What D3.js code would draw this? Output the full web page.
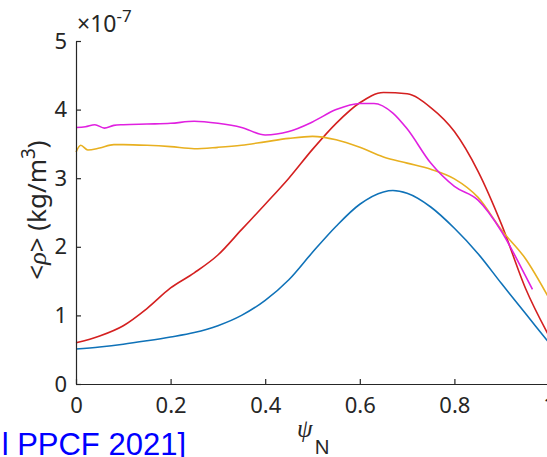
<!DOCTYPE html>
<html>
<head>
<meta charset="utf-8">
<script src="https://cdn.jsdelivr.net/npm/d3@7"></script>
<style>
  body { margin: 0; background: #fff; overflow: hidden; }
  svg { display: block; }
</style>
</head>
<body>
<div></div>
<script>
const w = 547;
const h = 457;

// data, values in units of 1e-7 kg/m^3
const psiBlue = [0, 0.05, 0.1, 0.15, 0.2, 0.25, 0.3, 0.35, 0.4, 0.45, 0.5, 0.55, 0.6, 0.65, 0.67, 0.7, 0.75, 0.8, 0.85, 0.9, 0.95, 1.0];
const rhoBlue = [0.51, 0.54, 0.58, 0.63, 0.685, 0.75, 0.85, 1.0, 1.22, 1.52, 1.92, 2.3, 2.62, 2.8, 2.82, 2.78, 2.58, 2.27, 1.9, 1.46, 1.03, 0.6];

const psiRed = [0, 0.05, 0.1, 0.15, 0.2, 0.25, 0.3, 0.35, 0.4, 0.45, 0.5, 0.55, 0.6, 0.65, 0.7, 0.75, 0.8, 0.85, 0.9, 0.95, 1.0];
const rhoRed = [0.6, 0.7, 0.85, 1.1, 1.4, 1.62, 1.88, 2.25, 2.62, 3.0, 3.42, 3.8, 4.1, 4.25, 4.23, 4.03, 3.68, 3.1, 2.32, 1.4, 0.7];

const psiYellow = [0, 0.01, 0.025, 0.05, 0.08, 0.1, 0.15, 0.2, 0.25, 0.3, 0.35, 0.4, 0.45, 0.5, 0.55, 0.6, 0.65, 0.7, 0.75, 0.8, 0.85, 0.9, 0.95, 1.0];
const rhoYellow = [3.38, 3.48, 3.41, 3.44, 3.49, 3.49, 3.48, 3.46, 3.43, 3.45, 3.48, 3.53, 3.58, 3.61, 3.56, 3.45, 3.31, 3.22, 3.13, 2.99, 2.72, 2.24, 1.83, 1.25];

const psiMagenta = [0, 0.02, 0.04, 0.06, 0.08, 0.1, 0.15, 0.2, 0.25, 0.3, 0.35, 0.4, 0.45, 0.5, 0.55, 0.6, 0.63, 0.67, 0.7, 0.75, 0.8, 0.85, 0.9, 0.95, 0.965];
const rhoMagenta = [3.74, 3.75, 3.78, 3.73, 3.77, 3.78, 3.79, 3.8, 3.83, 3.8, 3.74, 3.63, 3.68, 3.82, 4.0, 4.09, 4.09, 3.95, 3.72, 3.22, 2.88, 2.68, 2.22, 1.58, 1.38];

const xTicks = [0, 0.2, 0.4, 0.6, 0.8, 1];
const yTicks = [0, 1, 2, 3, 4, 5];

const series = [
  { psi: psiBlue, rho: rhoBlue, color: "#0f72b8" },
  { psi: psiRed, rho: rhoRed, color: "#d42020" },
  { psi: psiYellow, rho: rhoYellow, color: "#e8b020" },
  { psi: psiMagenta, rho: rhoMagenta, color: "#e020e0" },
];

const svg = d3.select("div").append("svg").attr("width", w).attr("height", h);

const xScale = d3.scaleLinear().domain([0, 1]).range([76, 549]);
const yScale = d3.scaleLinear().domain([0, 5]).range([384, 41]);

const line = d3
  .line()
  .x((d) => xScale(d[0]))
  .y((d) => yScale(d[1]))
  .curve(d3.curveMonotoneX);

series.forEach((s) => {
  svg
    .append("path")
    .datum(s.psi.map((p, i) => [p, s.rho[i]]))
    .attr("fill", "none")
    .attr("stroke", s.color)
    .attr("stroke-width", 1.6)
    .attr("d", line);
});

const font = "'Noto Sans', 'Open Sans', sans-serif";
const axisColor = "#262626";

const xAxis = d3.axisBottom(xScale).tickValues(xTicks).tickSizeInner(-5).tickSizeOuter(0).tickPadding(13)
  .tickFormat((d) => (d === 1 ? "1" : d === 0 ? "0" : d3.format(".1f")(d)));
const gx = svg.append("g").attr("transform", "translate(0," + yScale(0) + ")").call(xAxis);

const yAxis = d3.axisLeft(yScale).tickValues(yTicks).tickSizeInner(-5).tickSizeOuter(0).tickPadding(9)
  .tickFormat(d3.format("d"));
const gy = svg.append("g").attr("transform", "translate(" + xScale(0) + ",0)").call(yAxis);

[gx, gy].forEach((g) => {
  g.select(".domain").attr("stroke", axisColor).attr("stroke-width", 1.2);
  g.selectAll(".tick line").attr("stroke", axisColor).attr("stroke-width", 1.2);
  g.selectAll(".tick text").attr("fill", axisColor).style("font-family", font).style("font-size", "22px");
});

// exponent label
const exp = svg.append("text").attr("x", 77).attr("y", 32).attr("fill", axisColor)
  .style("font-family", font).style("font-size", "23px");
exp.append("tspan").text("\u00d710");
exp.append("tspan").attr("dy", -10).style("font-size", "17px").text("-7");

// y label
const yl = svg.append("text")
  .attr("transform", "translate(46,210) rotate(-90)")
  .attr("text-anchor", "middle")
  .attr("fill", axisColor)
  .style("font-family", font)
  .style("font-size", "26px");
yl.append("tspan").text("<");
yl.append("tspan").style("font-family", "'Liberation Serif', serif").style("font-style", "italic").text("\u03c1");
yl.append("tspan").text("> (kg/m");
yl.append("tspan").attr("dy", -11).style("font-size", "19px").text("3");
yl.append("tspan").attr("dy", 11).text(")");

// x label
const xl = svg.append("text").attr("x", 297).attr("y", 437).attr("fill", axisColor)
  .style("font-size", "25px");
xl.append("tspan").style("font-family", "'Liberation Serif', serif").style("font-style", "italic").text("\u03c8");
xl.append("tspan").attr("dx", 2).attr("dy", 17).style("font-family", font).style("font-size", "20px").text("N");

// citation
svg.append("text").attr("x", 186).attr("y", 455).attr("text-anchor", "end")
  .attr("fill", "#0000ff")
  .style("font-family", "'Liberation Sans', Arial, sans-serif")
  .style("font-size", "31px")
  .text("l PPCF 2021]");
</script>
</body>
</html>
